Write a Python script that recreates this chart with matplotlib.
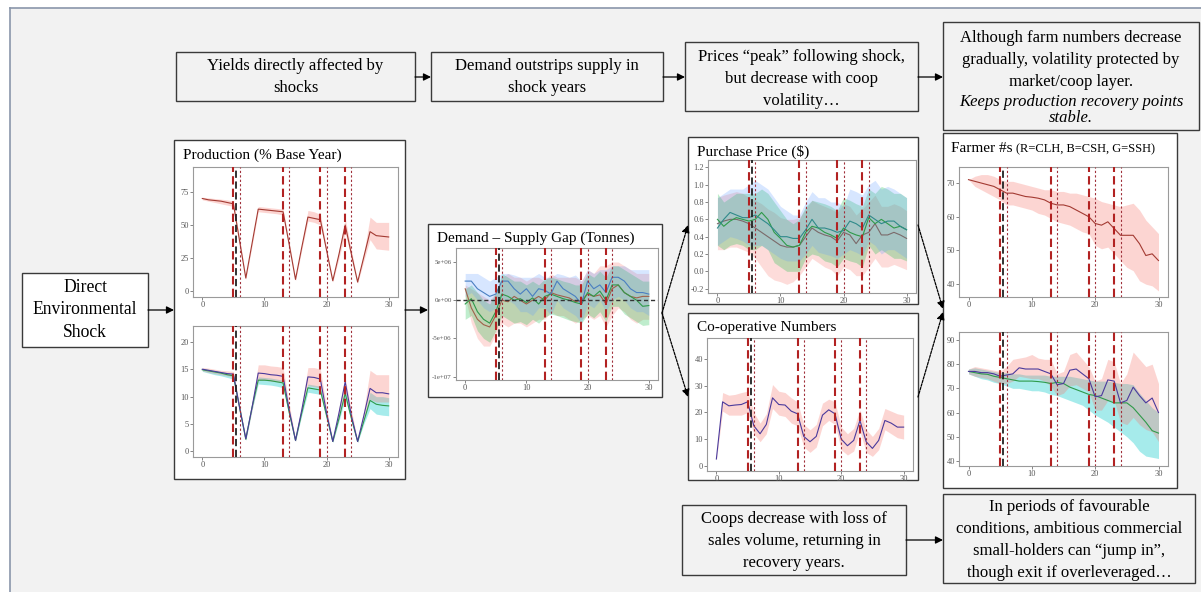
import matplotlib
matplotlib.use("Agg")
import matplotlib.pyplot as plt
from matplotlib.patches import Rectangle

plt.rcParams['font.family'] = ['Liberation Serif', 'DejaVu Serif']

W, H = 1201, 592

# ---------------- data ----------------
years = list(range(31))
shock_years = [5, 13, 19, 23]
extra_shock = [5.5]
recovery_years = [6, 14, 20, 24]

prod_mid = [70,69,68.5,68,67,66,38,10,36,62,61.5,61,60.5,60,35,9,33,56,55,54,31,8,28,50,28,7,26,45,42,41.5,41]
prod_lo  = [69,68,67,66,65,64,36,9,34,60,59.5,59,58.5,57.5,33,8,31,53,52,50,29,7,25,44,25,6,23,39,32,31.5,31]
prod_hi  = [71,70.5,70,69.5,69,68,40,11,38,64,63.5,63,62.5,62,37,10,35,61,60,58,33,9,31,55,31,8,29,56,52,52,52]

prodb_csh    = [15,14.8,14.6,14.4,14.2,14.1,8,2.3,8,14.3,14.2,14,13.9,13.7,7.5,2,7.5,13.6,13.5,13.2,7,1.8,7,12.7,6.5,1.8,6.5,11.5,10.7,10.7,10.5]
prodb_csh_hi = [15.3,15.2,15,14.8,14.7,14.6,8.5,2.5,8.8,15.8,15.8,15.6,15.5,15.3,8.5,2.3,8.5,15.3,15.3,15,8,2,8,13.3,7.5,2,7.5,14.8,14,14,14]
prodb_csh_lo = [14.7,14.4,14.2,14,13.8,13.6,7.5,2.1,7.5,13,13,12.8,12.7,12.5,7,1.8,7,12,11.8,11.6,6.5,1.7,6,11,6,1.6,6,9.5,9,9,9]
prodb_ssh    = [14.9,14.7,14.5,14.3,14,13.8,8,2.2,8,13,13,12.9,12.7,12.5,7,2,7,11.6,11.4,11.2,6.5,1.8,6,10.6,6,1.8,5.5,9.3,8.6,8.4,8.3]
prodb_ssh_hi = [15.2,15,14.8,14.6,14.4,14.2,8.3,2.4,8.3,13.6,13.5,13.4,13.2,13,7.5,2.2,7.5,12.3,12.1,11.9,7,2,6.5,11.3,6.5,2,6,10.8,10,10,9.8]
prodb_ssh_lo = [14.6,14.3,14,13.8,13.5,13.2,7.6,2,7.5,12.3,12.2,12.1,11.9,11.6,6.5,1.8,6.5,10.8,10.6,10.4,6,1.6,5.5,9.6,5.5,1.6,5,7.8,6.8,6.6,6.5]

# Demand - supply gap (millions of tonnes)
gap_blue    = [2.5,2.5,1.5,1,0.5,0.8,2.5,2.5,1.5,0.8,1.5,0.5,1.5,1.3,0.8,2.5,1.5,1,0.5,-0.5,2.5,1.5,2,1,3,3,2.5,1.5,1,1,0.8]
gap_blue_hi = [3.5,3.5,3.5,3,2.5,3,3.5,3.5,3.3,3,3,3,3.5,3,3,3.5,3.3,3,3.3,2.5,4,3.5,4,4,4.5,4.5,4.5,4,4,4,4]
gap_blue_lo = [0.5,1,0,-1,-1.5,-1,0,0,-0.5,-1.5,-1.5,-2,-1,-1,-2,0,-1,-1.5,-2,-3,-0.5,-1,0,-1.5,0,0.5,0,-1,-1.5,-1.5,-2]
gap_green    = [-0.5,0.2,-1.5,-2.5,-3,-1.5,0.8,0.5,0,0.2,-0.3,0.3,-0.5,0.5,0.8,0.5,0.2,0,-0.3,-0.5,1,0.5,1.2,0,2,2,1,0.5,0,-0.8,-0.7]
gap_green_hi = [1.5,2,1,0,-0.5,1,3.5,3,2.5,2.5,2,2.5,2,2.8,3,2.8,2.5,2.3,2,2,3.5,3,3.8,3,4.5,4.5,4,3.5,3,2.5,2.5]
gap_green_lo = [-2.5,-2,-4,-5,-5.5,-4,-2,-2.5,-3,-2.8,-3.2,-2.5,-3,-2.2,-1.8,-2,-2.3,-2.6,-2.8,-3,-1.8,-2.3,-1.5,-2.8,-0.8,-0.8,-1.8,-2.3,-2.8,-3.3,-3.2]
gap_red    = [1.5,-1,-2.5,-3.2,-3.5,-2,0,-0.2,0.5,0,-0.5,0,0.5,0,1,0.7,0.5,0.3,-0.2,0,0.8,0.5,0.7,-0.5,1.5,2,1,0.5,0.3,0.5,0.5]
gap_red_hi = [2,1.5,1,0.5,0,1,3,3.5,3,3,2.5,3,3,2.5,3.5,3,3,3,3,2.5,4,3.5,4.5,4.5,5,5,4.5,4,3.5,3.5,3.5]
gap_red_lo = [0.5,-3,-5,-6,-6,-4.5,-3,-3.5,-3,-3,-3.5,-3,-2.5,-2.5,-1.5,-2,-2,-2.5,-3,-2.5,-2,-2.5,-2,-3.5,-2,-1,-1.5,-2.5,-3,-2.5,-2.5]
gap_ticks = [5e6, 0, -5e6, -1e7]
gap_tick_labels = ["5e+06", "0e+00", "-5e+06", "-1e+07"]

# Purchase price ($)
price_blue    = [0.5,0.6,0.68,0.65,0.62,0.62,0.65,0.6,0.55,0.48,0.4,0.4,0.38,0.38,0.48,0.6,0.5,0.5,0.48,0.45,0.47,0.58,0.55,0.5,0.65,0.6,0.55,0.58,0.58,0.52,0.48]
price_blue_hi = [0.85,0.9,0.95,0.95,0.95,1.0,1.05,1.0,0.95,0.85,0.75,0.7,0.65,0.65,0.8,0.92,0.85,0.85,0.8,0.8,0.75,0.95,0.92,0.88,1.0,1.05,0.95,0.98,0.95,0.9,0.85]
price_blue_lo = [0.3,0.35,0.4,0.38,0.35,0.3,0.3,0.3,0.25,0.2,0.15,0.12,0.12,0.12,0.2,0.3,0.22,0.2,0.18,0.15,0.2,0.25,0.22,0.18,0.35,0.3,0.2,0.25,0.25,0.2,0.15]
price_green    = [0.6,0.52,0.58,0.62,0.6,0.58,0.6,0.68,0.6,0.45,0.38,0.3,0.28,0.3,0.45,0.52,0.5,0.45,0.42,0.38,0.5,0.45,0.42,0.4,0.62,0.55,0.6,0.55,0.5,0.52,0.48]
price_green_hi = [0.9,0.8,0.85,0.9,0.9,0.9,0.9,0.95,0.9,0.8,0.7,0.6,0.55,0.6,0.75,0.82,0.8,0.78,0.75,0.7,0.85,0.82,0.78,0.75,0.95,0.9,0.98,0.95,0.9,0.9,0.85]
price_green_lo = [0.3,0.25,0.3,0.32,0.3,0.25,0.25,0.3,0.25,0.1,0.05,0.0,0.0,0.0,0.15,0.2,0.18,0.12,0.1,0.05,0.15,0.12,0.1,0.05,0.3,0.2,0.25,0.2,0.15,0.15,0.12]
price_red    = [0.55,0.58,0.6,0.6,0.58,0.55,0.5,0.45,0.4,0.35,0.3,0.28,0.28,0.3,0.4,0.5,0.45,0.42,0.4,0.35,0.45,0.42,0.32,0.42,0.45,0.55,0.42,0.42,0.45,0.42,0.38]
price_red_hi = [0.85,0.88,0.9,0.92,0.9,0.85,0.82,0.78,0.72,0.68,0.62,0.6,0.6,0.62,0.72,0.82,0.78,0.75,0.72,0.68,0.78,0.75,0.65,0.72,0.8,0.88,0.75,0.75,0.78,0.75,0.7]
price_red_lo = [0.25,0.25,0.28,0.28,0.25,0.22,0.15,0.05,-0.05,-0.1,-0.12,-0.15,-0.12,-0.05,0.05,0.15,0.1,0.05,0.02,-0.05,0.05,0.02,-0.05,-0.05,0.05,0.15,0.05,0.05,0.08,0.05,0.02]

# Co-operative numbers
coop_mid = [2.5,24,22.5,22.8,23,24,15,12,15.5,25.5,23,22.8,20.5,19.5,11,9,11,19,21,19.5,10,7.5,9.5,17,9,6.5,9.5,17,16,14.5,14.5]
coop_hi  = [3,27.5,26.5,26.8,27.5,28,20,16,19.5,30.5,28,27.5,25.5,24,15.5,13.5,15.5,23.5,25,24,14.5,12,14,21,13.5,11,14,21.5,20.5,19.5,19]
coop_lo  = [2,20.5,19,19,19,20,12,9,12,21.5,19,18.5,16,15,7,5,7,15,17,15.5,6,4,5.5,13,5,3.5,6,13.5,12,10.5,10]

# Farmer numbers (top: CLH)
farm_clh    = [71,70.5,70,69.5,69,68,67,67,66.5,66,65.8,65.5,65,64,63.5,63.5,63,62,61,60,58,57.5,58.5,56.5,54.5,54.5,54.5,52,48.5,49,47]
farm_clh_hi = [71,72,72.5,72.5,72,71,70.5,70.5,70,69.5,69,68.5,68,68,67.5,67.5,67,67,66.5,66,65.5,64.5,64,63.5,63,63.5,64,62,59,57,55]
farm_clh_lo = [71,69,68,67,66,65,63.5,63.5,63,62.5,62,61,60.5,59.5,58.5,58,57.5,56.5,55.5,55,51.5,50.5,51,49,47,45,44,41,40,39.5,38]

# Farmer numbers (bottom: CSH / SSH)
farm_csh    = [77,77,76.5,76.5,76,75,75.5,76,78.5,78,78,78,77,76,71.5,72,77.5,78,76,74,66.5,67,73.5,73,64,65,70.5,67,64,66,60]
farm_csh_hi = [78,79,78.5,78,77.5,77,79,82,82.5,83,84,82.5,82,82,76,77,84,85,82,79,73,74,82,81,72,76,85,82,79,80,72]
farm_csh_lo = [76,75,74.5,74,73,72,72,73,75,74.5,74,74,73,71,67,68,71,71.5,70,68.5,61,61,65,65,56,55,58,55,53,52,48]
farm_ssh    = [77,76.5,76,75.8,75,74.5,74,73.5,73,73,73,72.8,72.5,72,72.5,72,70.5,69.5,68.5,67.5,67,66,65,64,64,64,62,59,56,52.5,51.5]
farm_ssh_hi = [78,78.5,78,77.5,77,76.5,76.5,76,76,75.5,75.5,75.5,75.5,75,75,75,75,74.5,74,73.5,73,73,73,72.5,72,72,71.5,68,65,62,60]
farm_ssh_lo = [76,75,74,73.5,72.5,72,71,70,70,69.5,69,69,68.5,67.5,67,66,65,64,63,61,59,57.5,56,54,52,50,47.5,44,42,41.5,41]

# ---------------- colours ----------------
RIB_RED = "#F8766D"
RIB_GRN = "#00BA38"
RIB_BLU = "#619CFF"
RIB_CYN = "#00C8C8"
LN_RED = "#a33a32"
LN_PUR = "#4b3a9c"
LN_GRN = "#2f9a4a"
LN_BLU = "#4a7fc1"
LN_TEAL = "#2f8a8a"
LN_GRAY = "#7b6a6a"
BG = "#f2f2f2"
EDGE = "#3a3a3a"

fig = plt.figure(figsize=(W / 100, H / 100), dpi=100)
fig.patch.set_facecolor("white")

bg = fig.add_axes([0, 0, 1, 1])
bg.set_xlim(0, W)
bg.set_ylim(H, 0)
bg.axis("off")

bg.add_patch(Rectangle((10, 8), W, H, facecolor=BG, edgecolor="none", zorder=0))
bg.plot([10, W], [8, 8], color="#8a96aa", lw=1.2, zorder=1)
bg.plot([10, 10], [8, H], color="#8a96aa", lw=1.2, zorder=1)


def box(x0, y0, x1, y1, face=BG, lw=1.0):
    bg.add_patch(Rectangle((x0, y0), x1 - x0, y1 - y0, facecolor=face,
                           edgecolor=EDGE, lw=lw, zorder=2))


def arrow(x0, y0, x1, y1, ls="-"):
    bg.annotate("", xy=(x1, y1), xytext=(x0, y0),
                arrowprops=dict(arrowstyle="-|>", color="black", lw=0.9,
                                linestyle=ls, mutation_scale=11,
                                shrinkA=0, shrinkB=0), zorder=3)


# text boxes
box(176, 52, 415, 101)
bg.text(295.5, 77, "Yields directly affected by\nshocks", ha="center", va="center",
        fontsize=12, linespacing=1.42, zorder=4)
box(431, 52, 663, 101)
bg.text(547, 77, "Demand outstrips supply in\nshock years", ha="center", va="center",
        fontsize=12, linespacing=1.42, zorder=4)
box(685, 42, 918, 111)
bg.text(801.5, 79, "Prices \u201cpeak\u201d following shock,\nbut decrease with coop\nvolatility\u2026",
        ha="center", va="center", fontsize=12, linespacing=1.48, zorder=4)
box(943, 22, 1199, 130)
bg.text(1071, 60, "Although farm numbers decrease\ngradually, volatility protected by\nmarket/coop layer.",
        ha="center", va="center", fontsize=12, linespacing=1.48, zorder=4)
bg.text(1071, 110, "Keeps production recovery points\nstable.", ha="center", va="center",
        fontsize=12, style="italic", linespacing=1.08, zorder=4)

box(22, 273, 148, 347, face="white")
bg.text(85, 310, "Direct\nEnvironmental\nShock", ha="center", va="center",
        fontsize=12.7, linespacing=1.42, zorder=4)

box(682, 505, 906, 575)
bg.text(794, 541, "Coops decrease with loss of\nsales volume, returning in\nrecovery years.",
        ha="center", va="center", fontsize=12, linespacing=1.48, zorder=4)
box(943, 494, 1195, 583)
bg.text(1069, 540, "In periods of favourable\nconditions, ambitious commercial\nsmall-holders can \u201cjump in\u201d,\nthough exit if overleveraged\u2026",
        ha="center", va="center", fontsize=12, linespacing=1.48, zorder=4)

# chart panel frames
box(174, 140, 405, 479, face="white")
box(428, 224, 662, 397, face="white")
box(688, 137, 918, 304, face="white")
box(688, 313, 918, 480, face="white")
box(943, 133, 1177, 488, face="white")

# panel titles
bg.text(183, 155, "Production (% Base Year)", ha="left", va="center", fontsize=11, zorder=4)
bg.text(437, 238, "Demand \u2013 Supply Gap (Tonnes)", ha="left", va="center", fontsize=11, zorder=4)
bg.text(697, 152, "Purchase Price ($)", ha="left", va="center", fontsize=11, zorder=4)
bg.text(697, 327, "Co-operative Numbers", ha="left", va="center", fontsize=11, zorder=4)
t1 = bg.text(951, 148, "Farmer #s ", ha="left", va="center", fontsize=11, zorder=4)
fig.canvas.draw()
bb = t1.get_window_extent()
bg.text(951 + bb.width, 149, "(R=CLH, B=CSH, G=SSH)", ha="left", va="center", fontsize=9, zorder=4)

# arrows
arrow(415, 77, 431, 77)
arrow(663, 77, 685, 77)
arrow(918, 77, 943, 77)
arrow(148, 310, 174, 310)
arrow(405, 310, 428, 310)
arrow(662, 313, 688, 225, ls=(0, (2, 1)))
arrow(662, 313, 688, 397, ls=(0, (2, 1)))
arrow(918, 225, 943, 309, ls=(0, (2, 1)))
arrow(918, 397, 943, 312, ls=(0, (2, 1)))
arrow(906, 540, 943, 540)


def add_ax(x0, y0, x1, y1, lsize=6):
    ax = fig.add_axes([x0 / W, 1 - y1 / H, (x1 - x0) / W, (y1 - y0) / H])
    ax.set_facecolor("white")
    for s in ax.spines.values():
        s.set_color("#9a9a9a")
        s.set_linewidth(0.8)
    ax.tick_params(labelsize=lsize, colors="#555555", length=2, width=0.5, pad=1)
    ax.set_xlim(-1.5, 31.5)
    ax.set_xticks([0, 10, 20, 30])
    return ax


def vlines(ax):
    for x in shock_years:
        ax.axvline(x, color="#b22222", lw=1.5, ls=(0, (4, 2)), zorder=5)
    for x in extra_shock:
        ax.axvline(x, color="#222222", lw=1.3, ls=(0, (4, 2)), zorder=5)
    for x in recovery_years:
        ax.axvline(x, color="#a0303a", lw=0.8, ls=(0, (2, 2)), zorder=5)


def series(ax, mid, lo, hi, rib, line, alpha=0.3):
    ax.fill_between(years, lo, hi, color=rib, alpha=alpha, lw=0, zorder=2)
    ax.plot(years, mid, color=line, lw=0.8, zorder=3)


# Production top
ax = add_ax(193, 167, 398, 297)
series(ax, prod_mid, prod_lo, prod_hi, RIB_RED, LN_RED)
vlines(ax)
ax.set_ylim(-4.25, 93.75)
ax.set_yticks([0, 25, 50, 75])

# Production bottom
ax = add_ax(193, 326, 398, 457)
series(ax, prodb_ssh, prodb_ssh_lo, prodb_ssh_hi, RIB_CYN, LN_GRN, 0.35)
series(ax, prodb_csh, prodb_csh_lo, prodb_csh_hi, RIB_RED, LN_PUR)
vlines(ax)
ax.set_ylim(-1.04, 22.9)
ax.set_yticks([0, 5, 10, 15, 20])

# Demand - supply gap
ax = add_ax(456, 248, 658, 380, lsize=5)
for mid, lo, hi, rib, line in [
        (gap_red, gap_red_lo, gap_red_hi, RIB_RED, "#a0604a"),
        (gap_green, gap_green_lo, gap_green_hi, RIB_GRN, LN_GRN),
        (gap_blue, gap_blue_lo, gap_blue_hi, RIB_BLU, LN_BLU)]:
    ax.fill_between(years, [v * 1e6 for v in lo], [v * 1e6 for v in hi],
                    color=rib, alpha=0.25, lw=0, zorder=2)
    ax.plot(years, [v * 1e6 for v in mid], color=line, lw=0.8, zorder=3)
ax.axhline(0, color="#333333", lw=1.0, ls=(0, (3, 2)), zorder=4)
vlines(ax)
ax.set_ylim(-1.044e7, 6.83e6)
ax.set_yticks(gap_ticks)
ax.set_yticklabels(gap_tick_labels)
ax.tick_params(axis="x", labelsize=6)

# Purchase price
ax = add_ax(708, 160, 916, 293)
series(ax, price_red, price_red_lo, price_red_hi, RIB_RED, LN_GRAY, 0.25)
series(ax, price_green, price_green_lo, price_green_hi, RIB_GRN, LN_GRN, 0.25)
series(ax, price_blue, price_blue_lo, price_blue_hi, RIB_BLU, LN_TEAL, 0.25)
vlines(ax)
ax.set_ylim(-0.25, 1.285)
ax.set_yticks([-0.2, 0.0, 0.2, 0.4, 0.6, 0.8, 1.0, 1.2])
ax.set_yticklabels(["-0.2", "0.0", "0.2", "0.4", "0.6", "0.8", "1.0", "1.2"])

# Co-operative numbers
ax = add_ax(707, 338, 913, 471)
series(ax, coop_mid, coop_lo, coop_hi, RIB_RED, LN_PUR)
vlines(ax)
ax.set_ylim(-2, 48)
ax.set_yticks([0, 10, 20, 30, 40])

# Farmer numbers top
ax = add_ax(959, 167, 1168, 297)
series(ax, farm_clh, farm_clh_lo, farm_clh_hi, RIB_RED, LN_RED)
vlines(ax)
ax.set_ylim(36.2, 74.75)
ax.set_yticks([40, 50, 60, 70])

# Farmer numbers bottom
ax = add_ax(959, 332, 1168, 466)
series(ax, farm_ssh, farm_ssh_lo, farm_ssh_hi, RIB_CYN, LN_GRN, 0.35)
series(ax, farm_csh, farm_csh_lo, farm_csh_hi, RIB_RED, LN_PUR)
vlines(ax)
ax.set_ylim(37.9, 93.3)
ax.set_yticks([40, 50, 60, 70, 80, 90])

fig.savefig("out.png", dpi=100, facecolor=fig.get_facecolor())
